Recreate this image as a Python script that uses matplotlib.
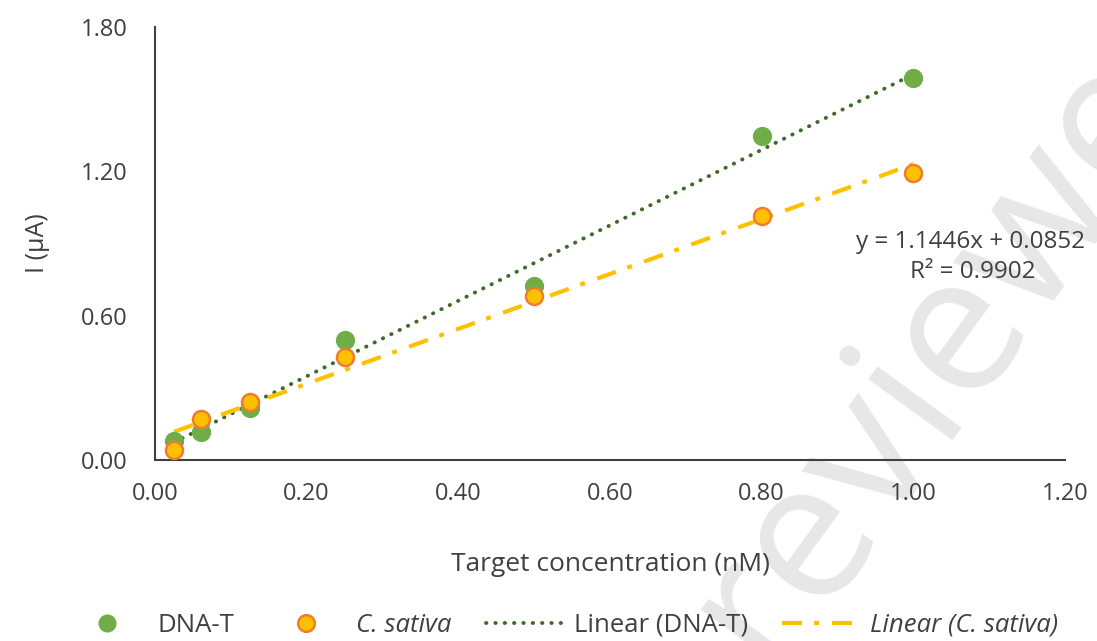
import numpy as np
import matplotlib
matplotlib.use("Agg")
import matplotlib.pyplot as plt
from matplotlib.lines import Line2D

# ---- data ----
conc = [0.025, 0.06, 0.125, 0.25, 0.5, 0.8, 1.0]
dna_t = [0.08, 0.115, 0.215, 0.50, 0.725, 1.345, 1.59]
c_sativa = [0.04, 0.17, 0.24, 0.43, 0.68, 1.015, 1.195]
x_ticks = [0.0, 0.2, 0.4, 0.6, 0.8, 1.0, 1.2]
y_ticks = [0.0, 0.6, 1.2, 1.8]
eq_text = "y = 1.1446x + 0.0852"
r2_text = "R² = 0.9902"

plt.rcParams['font.family'] = ['Open Sans', 'DejaVu Sans']

fig = plt.figure(figsize=(10.97, 6.41), dpi=100)
ax = fig.add_axes([155/1097, 1-460/641, (1065-155)/1097, (460-27)/641])
ax.set_zorder(1)

# watermark (behind the axes)
fig.text(769/1097, 1-671/641, "reviewed", rotation=54, fontsize=140,
         color='#E7E7E7', ha='left', va='baseline', zorder=-1,
         rotation_mode='anchor')

green = '#70AD47'
dark_green = '#3F6B2A'
orange_fill = '#FFC000'
orange_edge = '#ED7D31'
txt = '#404040'

x = np.array(conc)
p1 = np.polyfit(x, dna_t, 1)
p2 = np.polyfit(x, c_sativa, 1)
xs = np.array([x.min(), x.max()])

dot_ls = (0, (0.1, 2.3))
dashdot_ls = (0, (4.8, 2.9, 1.2, 3.1))
ax.plot(xs, np.polyval(p1, xs), linestyle=dot_ls, color=dark_green,
        lw=2.8, dash_capstyle='round', zorder=3)
ax.plot(xs, np.polyval(p2, xs), linestyle=dashdot_ls, color=orange_fill,
        lw=3, zorder=3)
ax.scatter(conc, dna_t, s=165, color=green, edgecolors=green, linewidths=1, zorder=4)
ax.scatter(conc, c_sativa, s=150, color=orange_fill, edgecolors=orange_edge,
           linewidths=1.8, zorder=5)

ax.set_xlim(0, 1.2)
ax.set_ylim(0, 1.8)
ax.set_xticks(x_ticks)
ax.set_yticks(y_ticks)
ax.set_xticklabels([f"{v:.2f}" for v in x_ticks])
ax.set_yticklabels([f"{v:.2f}" for v in y_ticks])
ax.tick_params(length=0, labelsize=17, colors=txt)
ax.tick_params(axis='x', pad=16)
ax.tick_params(axis='y', pad=20)
for s in ['top', 'right']:
    ax.spines[s].set_visible(False)
for s in ['left', 'bottom']:
    ax.spines[s].set_color('#404040')
    ax.spines[s].set_linewidth(1.5)
ax.patch.set_alpha(0)

ax.set_xlabel("Target concentration (nM)", fontsize=19, color=txt, labelpad=33)
ax.set_ylabel("I (μA)", fontsize=18, color=txt, labelpad=22)

ax.text(1.076, 0.905, eq_text, ha='center', va='center',
        fontsize=17.5, color=txt)
ax.text(1.078, 0.78, r2_text, ha='center', va='center', fontsize=17.5,
        color=txt)

handles = [
    Line2D([], [], marker='o', ls='none', markersize=12, color=green, mec=green),
    Line2D([], [], marker='o', ls='none', markersize=12, color=orange_fill,
           mec=orange_edge, mew=1.8),
    Line2D([], [], ls=dot_ls, color=dark_green, lw=2.8, dash_capstyle='round'),
    Line2D([], [], ls=dashdot_ls, color=orange_fill, lw=3),
]
labels = ["DNA-T", "C. sativa", "Linear (DNA-T)", "Linear (C. sativa)"]
leg = fig.legend(handles, labels, loc='center', bbox_to_anchor=(0.514, 1-625/641),
                 ncol=4, frameon=False, fontsize=18.5, handlelength=2.9,
                 columnspacing=1.35, handletextpad=0.5)
for t, lab in zip(leg.get_texts(), labels):
    t.set_color(txt)
    if 'sativa' in lab:
        t.set_fontstyle('italic')

fig.savefig("out.png", dpi=100)
